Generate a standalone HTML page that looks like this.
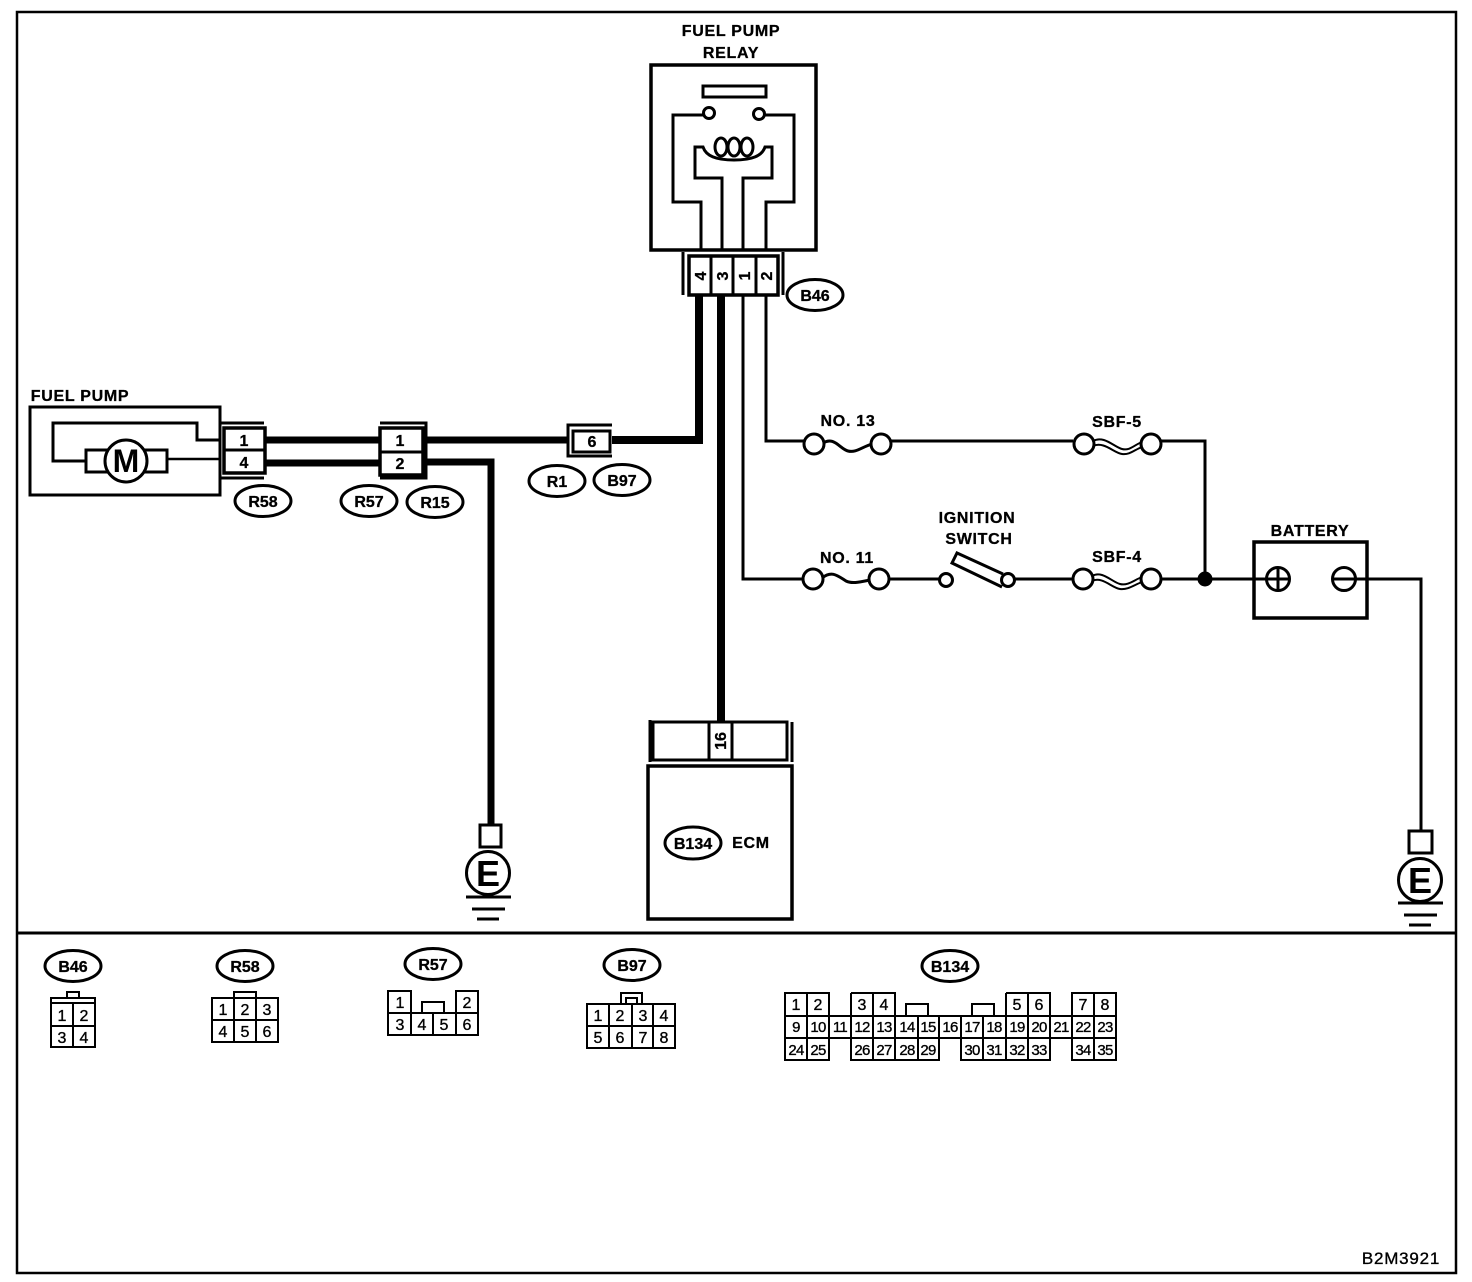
<!DOCTYPE html>
<html><head><meta charset="utf-8"><style>
html,body{margin:0;padding:0;background:#fff}
svg{display:block}
text{font-family:"Liberation Sans",sans-serif;fill:#000;text-anchor:middle}
.l{font-size:16px;font-weight:bold;letter-spacing:.7px;stroke:#000;stroke-width:.3px}
.o{font-size:16px;font-weight:bold;stroke:#000;stroke-width:.3px}
.n{font-size:16px;font-weight:bold;stroke:#000;stroke-width:.3px}
.c{font-size:16px;stroke:#000;stroke-width:.35px}
.s{font-size:15px;letter-spacing:-.7px;stroke:#000;stroke-width:.35px}
.b path,.b rect,.b circle,.b ellipse,.b line,.b polyline,.b polygon{fill:none;stroke:#000}
</style></head><body>
<svg width="1472" height="1282" viewBox="0 0 1472 1282" xmlns="http://www.w3.org/2000/svg">
<rect width="1472" height="1282" fill="#fff"/>
<g class="b" stroke-width="3">
<!-- frame -->
<path d="M17 12H1456V1273H17Z" stroke-width="2.5"/>
<path d="M17 933H1456" stroke-width="3"/>

<!-- relay -->
<rect x="651" y="65" width="165" height="185" stroke-width="3.5"/>
<rect x="703" y="86" width="63" height="11"/>
<circle cx="709" cy="113" r="5.5"/><circle cx="759" cy="114" r="5.5"/>
<path d="M703 115H673V202H701V250"/>
<path d="M765 115H794V202H766V250"/>
<path d="M722 250V178H695V147H703C706 156 716 160 734 160C752 160 762 156 765 147H772V178H743V250"/>
<ellipse cx="721" cy="147" rx="6" ry="9"/>
<ellipse cx="734" cy="147" rx="6" ry="9"/>
<ellipse cx="747" cy="147" rx="6" ry="9"/>
<rect x="689" y="256" width="89" height="39" stroke-width="3.5"/>
<path d="M711 256V295M733 256V295M756 256V295"/>
<path d="M683 252V295M783 252V295"/>

<!-- relay wires -->
<path d="M699 295V440H612" stroke-width="8"/>
<path d="M721 295V722" stroke-width="8"/>
<path d="M743 295V579H804" stroke-width="3"/>
<path d="M766 295V441H804" stroke-width="3"/>

<!-- right circuit -->
<circle cx="814" cy="444" r="10"/><circle cx="881" cy="444" r="10"/>
<path d="M823 443C834 436 840 449 848 451C856 453 862 447 872 444"/>
<path d="M891 441H1073"/>
<circle cx="1084" cy="444" r="10"/><circle cx="1151" cy="444" r="10"/>
<path d="M1093 441C1104 435 1114 447 1122 449C1130 451 1134 445 1142 442" stroke-width="2"/>
<path d="M1093 446C1104 441 1114 453 1122 454C1130 455 1134 450 1142 447" stroke-width="2"/>
<path d="M1161 441H1205V579"/>
<circle cx="813" cy="579" r="10"/><circle cx="879" cy="579" r="10"/>
<path d="M822 578C832 570 838 576 846 581C852 584 860 582 870 580"/>
<path d="M889 579H939"/>
<circle cx="946" cy="580" r="6.5"/>
<circle cx="1008" cy="580" r="6.5"/>
<path d="M1003 574L957 553L952 563L1002 587"/>
<path d="M1015 579H1073"/>
<circle cx="1083" cy="579" r="10"/><circle cx="1151" cy="579" r="10"/>
<path d="M1092 576C1102 570 1112 582 1120 584C1128 586 1134 580 1142 577" stroke-width="2"/>
<path d="M1092 581C1102 576 1112 588 1120 589C1128 590 1134 585 1142 582" stroke-width="2"/>
<path d="M1161 579H1278"/>
<circle cx="1205" cy="579" r="6" fill="#000" style="fill:#000"/>
<rect x="1254" y="542" width="113" height="76" stroke-width="3.5"/>
<circle cx="1278" cy="579" r="11.5"/>
<path d="M1278 568V591M1267 579H1290"/>
<circle cx="1344" cy="579" r="11.5"/>
<path d="M1333 579H1421V830"/>

<!-- right ground -->
<rect x="1409" y="831" width="23" height="22"/>
<circle cx="1420" cy="880" r="21.5"/>
<path d="M1398 903H1443" stroke-width="3"/><path d="M1404 915H1437" stroke-width="3"/><path d="M1409 925H1431" stroke-width="3"/>

<!-- fuel pump -->
<rect x="30" y="407" width="190" height="88" stroke-width="3"/>
<path d="M220 440H197V423H53V461H86"/>
<path d="M167 459H220" stroke-width="2.5"/>
<rect x="86" y="450" width="81" height="22"/>
<circle cx="126" cy="461" r="21" style="fill:#fff"/>
<path d="M220 423H264M220 478H264"/>
<rect x="224" y="428" width="41" height="45" stroke-width="3.5"/>
<path d="M224 450H265"/>
<path d="M265 440H380M265 463H380" stroke-width="7"/>

<!-- mid connector -->
<rect x="380" y="428" width="43" height="47" stroke-width="3.5"/>
<path d="M380 452H423"/>
<path d="M380 423H426V478H380"/>
<path d="M425 440H567" stroke-width="7"/>
<path d="M425 462H491V825" stroke-width="7"/>
<rect x="573" y="431" width="37" height="21" stroke-width="3"/>
<path d="M612 425H568V456H612" stroke-width="3"/>

<!-- left ground -->
<rect x="480" y="825" width="21" height="22"/>
<circle cx="488" cy="873" r="21.5"/>
<path d="M466 897H511" stroke-width="3"/><path d="M472 909H505" stroke-width="3"/><path d="M477 919H499" stroke-width="3"/>

<!-- ECM -->
<rect x="648" y="766" width="144" height="153" stroke-width="3.5"/>
<rect x="653" y="722" width="134" height="38" stroke-width="3"/>
<path d="M709 722V760M732 722V760" stroke-width="3"/>
<path d="M650 720V762M792 722V762"/>

<!-- ovals -->
<ellipse cx="815" cy="295" rx="28" ry="15.5"/>
<ellipse cx="263" cy="501" rx="28" ry="15.5"/>
<ellipse cx="369" cy="501" rx="28" ry="15.5"/>
<ellipse cx="435" cy="502" rx="28" ry="15.5"/>
<ellipse cx="557" cy="481" rx="28" ry="15.5"/>
<ellipse cx="622" cy="480" rx="28" ry="15.5"/>
<ellipse cx="693" cy="843" rx="28" ry="16"/>
<ellipse cx="73" cy="966" rx="28" ry="15.5"/>
<ellipse cx="245" cy="966" rx="28" ry="15.5"/>
<ellipse cx="433" cy="964" rx="28" ry="15.5"/>
<ellipse cx="632" cy="965" rx="28" ry="15.5"/>
<ellipse cx="950" cy="966" rx="28" ry="15.5"/>
</g>

<g class="b" stroke-width="2">
<!-- B46 diagram -->
<rect x="51" y="998" width="44" height="49"/>
<path d="M51 1003H95M51 1026H95M73 1003V1047"/>
<path d="M67 998V992H79V998"/>
<!-- R58 diagram -->
<rect x="212" y="998" width="66" height="44"/>
<path d="M212 1020H278M234 998V1042M256 998V1042"/>
<path d="M234 998V992H256V998"/>
<!-- R57 diagram -->
<rect x="388" y="991" width="23" height="22"/>
<rect x="456" y="991" width="22" height="22"/>
<rect x="388" y="1013" width="90" height="22"/>
<path d="M411 1013V1035M433 1013V1035M456 1013V1035"/>
<path d="M422 1013V1002H444V1013"/>
<!-- B97 diagram -->
<rect x="587" y="1004" width="88" height="44"/>
<path d="M587 1026H675M609 1004V1048M632 1004V1048M653 1004V1048"/>
<path d="M621 1004V993H642V1004"/>
<rect x="626" y="998" width="11" height="6"/>
<!-- B134 diagram -->
<path d="M785 993H829V1060H785ZM807 993V1060M785 1016H829M785 1038H829"/>
<path d="M851 993H895V1038M851 993V1060H939V1016M873 993V1060M895 1016V1060M918 1016V1060M851 1016H983M851 1038H939"/>
<path d="M829 1016H851V1038H829"/>
<path d="M939 1016V1038H961"/>
<path d="M961 1016V1060H1050V1016M983 1016V1060M1006 993V1060M1028 993V1060M1006 993H1050V1016M961 1016H1072M961 1038H1050"/>
<path d="M1050 1038H1072V1016"/>
<path d="M1072 993H1116V1060H1072ZM1094 993V1060M1072 1016H1116M1072 1038H1116"/>
<path d="M906 1016V1004H928V1016M972 1016V1004H994V1016"/>
</g>

<!-- labels -->
<text class="l" x="731" y="36">FUEL PUMP</text>
<text class="l" x="731" y="58">RELAY</text>
<text class="l" x="80" y="401">FUEL PUMP</text>
<text class="l" x="848" y="426">NO. 13</text>
<text class="l" x="1117" y="427">SBF-5</text>
<text class="l" x="847" y="563">NO. 11</text>
<text class="l" x="977" y="523">IGNITION</text>
<text class="l" x="979" y="544">SWITCH</text>
<text class="l" x="1117" y="562">SBF-4</text>
<text class="l" x="1310" y="536">BATTERY</text>
<text class="l" x="751" y="848">ECM</text>
<text class="c" x="1401" y="1264" style="font-size:17px;letter-spacing:.8px">B2M3921</text>

<text class="o" x="815" y="301">B46</text>
<text class="o" x="263" y="507">R58</text>
<text class="o" x="369" y="507">R57</text>
<text class="o" x="435" y="508">R15</text>
<text class="o" x="557" y="487">R1</text>
<text class="o" x="622" y="486">B97</text>
<text class="o" x="693" y="849">B134</text>
<text class="o" x="73" y="972">B46</text>
<text class="o" x="245" y="972">R58</text>
<text class="o" x="433" y="970">R57</text>
<text class="o" x="632" y="971">B97</text>
<text class="o" x="950" y="972">B134</text>

<text class="n" x="244" y="446">1</text>
<text class="n" x="244" y="468">4</text>
<text class="n" x="400" y="446">1</text>
<text class="n" x="400" y="469">2</text>
<text class="n" x="592" y="447">6</text>
<text class="n" transform="translate(706 276) rotate(-90)">4</text>
<text class="n" transform="translate(728 276) rotate(-90)">3</text>
<text class="n" transform="translate(750 276) rotate(-90)">1</text>
<text class="n" transform="translate(772 276) rotate(-90)">2</text>
<text class="n" transform="translate(726 741) rotate(-90)">16</text>
<text x="126" y="472" style="font-size:32px;font-weight:bold">M</text>
<text x="488" y="886" style="font-size:36px;font-weight:bold">E</text>
<text x="1420" y="893" style="font-size:36px;font-weight:bold">E</text>

<!-- B46 numbers -->
<text class="c" x="62" y="1021">1</text><text class="c" x="84" y="1021">2</text>
<text class="c" x="62" y="1043">3</text><text class="c" x="84" y="1043">4</text>
<!-- R58 numbers -->
<text class="c" x="223" y="1015">1</text><text class="c" x="245" y="1015">2</text><text class="c" x="267" y="1015">3</text>
<text class="c" x="223" y="1037">4</text><text class="c" x="245" y="1037">5</text><text class="c" x="267" y="1037">6</text>
<!-- R57 numbers -->
<text class="c" x="400" y="1008">1</text><text class="c" x="467" y="1008">2</text>
<text class="c" x="400" y="1030">3</text><text class="c" x="422" y="1030">4</text><text class="c" x="444" y="1030">5</text><text class="c" x="467" y="1030">6</text>
<!-- B97 numbers -->
<text class="c" x="598" y="1021">1</text><text class="c" x="620" y="1021">2</text><text class="c" x="643" y="1021">3</text><text class="c" x="664" y="1021">4</text>
<text class="c" x="598" y="1043">5</text><text class="c" x="620" y="1043">6</text><text class="c" x="643" y="1043">7</text><text class="c" x="664" y="1043">8</text>
<!-- B134 numbers -->
<text class="c" x="796" y="1010">1</text><text class="c" x="818" y="1010">2</text><text class="c" x="862" y="1010">3</text><text class="c" x="884" y="1010">4</text><text class="c" x="1017" y="1010">5</text><text class="c" x="1039" y="1010">6</text><text class="c" x="1083" y="1010">7</text><text class="c" x="1105" y="1010">8</text>
<text class="s" x="796" y="1032">9</text><text class="s" x="818" y="1032">10</text><text class="s" x="840" y="1032">11</text><text class="s" x="862" y="1032">12</text><text class="s" x="884" y="1032">13</text><text class="s" x="907" y="1032">14</text><text class="s" x="928" y="1032">15</text><text class="s" x="950" y="1032">16</text><text class="s" x="972" y="1032">17</text><text class="s" x="994" y="1032">18</text><text class="s" x="1017" y="1032">19</text><text class="s" x="1039" y="1032">20</text><text class="s" x="1061" y="1032">21</text><text class="s" x="1083" y="1032">22</text><text class="s" x="1105" y="1032">23</text>
<text class="s" x="796" y="1055">24</text><text class="s" x="818" y="1055">25</text><text class="s" x="862" y="1055">26</text><text class="s" x="884" y="1055">27</text><text class="s" x="907" y="1055">28</text><text class="s" x="928" y="1055">29</text><text class="s" x="972" y="1055">30</text><text class="s" x="994" y="1055">31</text><text class="s" x="1017" y="1055">32</text><text class="s" x="1039" y="1055">33</text><text class="s" x="1083" y="1055">34</text><text class="s" x="1105" y="1055">35</text>
</svg>
</body></html>
